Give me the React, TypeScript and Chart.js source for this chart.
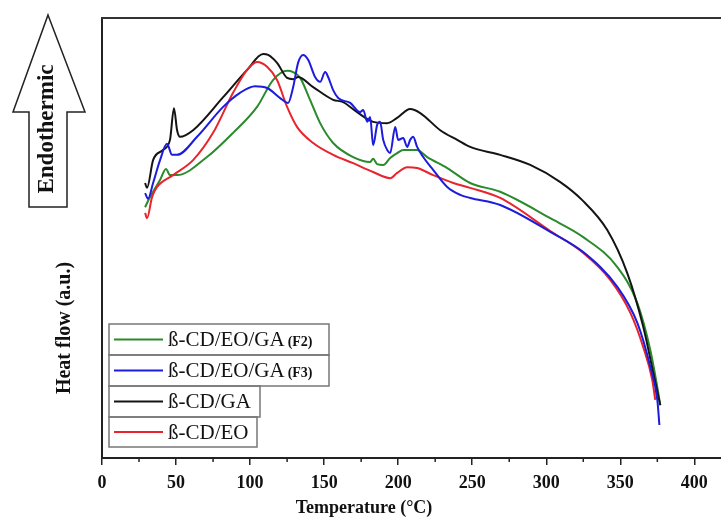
import React, { useEffect, useRef } from 'react';
import { Chart, registerables } from 'chart.js';

Chart.register(...registerables);

// Temperature (°C) axis ticks
const xTickValues = [0, 50, 100, 150, 200, 250, 300, 350, 400];

// ß-CD/EO/GA (F2) – green
const f2Temp = [29.1, 32.4, 39.2, 43.2, 45.9, 50.7, 70.9, 88.5, 104.7, 115.5, 125, 129.1, 133.8, 140.5, 147.3, 156.1, 169.6, 181.1, 183.1, 185.8, 189.9, 194.6, 199.3, 203.4, 212.8, 219.6, 233.1, 248.6, 268.9, 302.7, 325, 348, 361.5, 370.3, 375, 377];
const f2Flow = [57, 59.3, 63.2, 65.7, 64.3, 64.3, 68.4, 73.9, 79.8, 85.9, 88, 87.7, 86.4, 81.4, 76.1, 71.6, 68.4, 67.3, 68, 66.8, 66.6, 68.2, 69.3, 70, 70, 68.4, 65.9, 62.5, 60.5, 54.5, 50.2, 43.4, 35.2, 24.5, 16.1, 12];

// ß-CD/EO/GA (F3) – blue
const f3Temp = [29.1, 31.1, 34.5, 39.2, 43.9, 47.3, 50.7, 64.2, 81.8, 93.2, 103.4, 111.5, 120.3, 125.7, 129.1, 132.4, 135.8, 139.2, 143.9, 147.3, 150.7, 152.7, 156.1, 159.5, 167.6, 174.3, 176.4, 179.1, 181.1, 183.1, 185.8, 187.8, 189.9, 192.6, 194.6, 198, 200, 203.4, 206.1, 208.1, 210.1, 212.8, 216.9, 223.6, 233.1, 241.9, 248.6, 268.9, 302.7, 325, 348, 361.5, 370.3, 375, 376.4];
const f3Flow = [60.2, 58.9, 62.5, 67.7, 71.4, 68.9, 68.9, 73, 79.8, 83, 84.5, 84.1, 81.8, 80.7, 84.3, 89.8, 91.6, 90.5, 86.6, 85.5, 87.7, 86.6, 83.6, 81.8, 80.7, 78.6, 79.1, 76.4, 77.5, 71.1, 75.7, 76.4, 72.3, 70, 69.3, 75.2, 72.3, 72.7, 70.7, 72.3, 73, 70.7, 68.4, 65.5, 61.6, 59.8, 59.1, 57.5, 51.4, 46.8, 38.9, 30.7, 20.7, 13.2, 7.5];

// ß-CD/GA – black
const gaTemp = [29.1, 30.4, 34.5, 41.2, 45.9, 48.6, 50.7, 52.7, 61.5, 81.8, 98, 108.8, 112.2, 118.2, 125, 129.1, 132.4, 142.6, 156.1, 162.8, 172.3, 183.1, 192.6, 199.3, 208.1, 214.9, 228.4, 239.9, 248.6, 268.9, 289.2, 309.5, 324.3, 341.2, 354.7, 365.5, 372.3, 377];
const gaFlow = [62.5, 61.4, 67.7, 70, 72.3, 79.5, 74.5, 73, 74.5, 82, 88.2, 91.8, 91.6, 89.8, 86.4, 86.1, 86.6, 84.3, 81.4, 80.9, 78.6, 76.4, 76.1, 77.3, 79.3, 78.4, 74.5, 72.3, 70.7, 68.9, 66.6, 62.7, 58.6, 51.8, 42, 29.8, 19.3, 12];

// ß-CD/EO – red
const eoTemp = [29.1, 30.4, 33.8, 37.2, 48, 61.5, 75, 88.5, 98, 104.7, 111.5, 118.2, 125, 131.8, 142.6, 156.1, 169.6, 183.1, 194.6, 199.3, 206.1, 212.8, 223.6, 237.2, 248.6, 268.9, 302.7, 325, 343.2, 356.8, 365.5, 371.6, 373.6];
const eoFlow = [55.7, 54.5, 59.3, 61.6, 64.3, 67.7, 73.9, 83, 88.2, 90, 88.9, 85.9, 79.8, 75.2, 71.6, 68.9, 67, 65, 63.6, 64.8, 66.1, 65.9, 64.3, 62.5, 61.4, 59.1, 51.6, 46.6, 40.5, 33, 25.2, 17.7, 13.2];

const legendNames = ['ß-CD/EO/GA', 'ß-CD/EO/GA', 'ß-CD/GA', 'ß-CD/EO'];
const legendSuffix = ['(F2)', '(F3)', '', ''];
const seriesColors = ['#2b8a2b', '#1c1cdc', '#141414', '#e8242c'];

const toPoints = (t: number[], v: number[]) => t.map((x, i) => ({ x, y: v[i] }));

const SERIF = '"Liberation Serif", "DejaVu Serif", serif';

const decorPlugin = {
  id: 'decor',
  afterDraw(chart: any) {
    const ctx = chart.ctx as CanvasRenderingContext2D;
    const area = chart.chartArea;
    const xs = chart.scales.x;
    ctx.save();
    // top frame line
    ctx.strokeStyle = '#333';
    ctx.lineWidth = 2;
    ctx.beginPath();
    ctx.moveTo(area.left - 1, area.top);
    ctx.lineTo(chart.width, area.top);
    ctx.stroke();
    // minor ticks
    ctx.lineWidth = 1.5;
    ctx.strokeStyle = '#222';
    for (let v = 25; v < 420; v += 50) {
      const px = xs.getPixelForValue(v);
      ctx.beginPath();
      ctx.moveTo(px, area.bottom);
      ctx.lineTo(px, area.bottom + 4);
      ctx.stroke();
    }
    // arrow
    ctx.strokeStyle = '#222';
    ctx.lineWidth = 1.5;
    ctx.fillStyle = '#fff';
    ctx.beginPath();
    ctx.moveTo(48, 15);
    ctx.lineTo(85, 112);
    ctx.lineTo(67, 112);
    ctx.lineTo(67, 207);
    ctx.lineTo(29, 207);
    ctx.lineTo(29, 112);
    ctx.lineTo(13, 112);
    ctx.closePath();
    ctx.fill();
    ctx.stroke();
    // Endothermic
    ctx.fillStyle = '#111';
    ctx.font = `bold 23px ${SERIF}`;
    ctx.textAlign = 'center';
    ctx.textBaseline = 'middle';
    ctx.save();
    ctx.translate(47, 129);
    ctx.rotate(-Math.PI / 2);
    ctx.fillText('Endothermic', 0, 0);
    ctx.restore();
    // y title
    ctx.font = `bold 20px ${SERIF}`;
    ctx.save();
    ctx.translate(65, 328);
    ctx.rotate(-Math.PI / 2);
    ctx.fillText('Heat flow (a.u.)', 0, 0);
    ctx.restore();
    // x title
    ctx.font = `bold 18px ${SERIF}`;
    ctx.fillText('Temperature (°C)', 364, 508);
    // legend
    const rows = [
      [324, 355, 329],
      [355, 386, 329],
      [386, 417, 260],
      [417, 447, 257],
    ];
    rows.forEach((r, i) => {
      const [top, bottom, right] = r;
      ctx.strokeStyle = '#777';
      ctx.lineWidth = 1.5;
      ctx.strokeRect(109, top, right - 109, bottom - top);
      const cy = (top + bottom) / 2;
      ctx.strokeStyle = seriesColors[i];
      ctx.lineWidth = 2;
      ctx.beginPath();
      ctx.moveTo(114, cy);
      ctx.lineTo(163, cy);
      ctx.stroke();
      ctx.fillStyle = '#111';
      ctx.textAlign = 'left';
      ctx.font = `21px ${SERIF}`;
      ctx.fillText(legendNames[i], 168, cy + 1);
      if (legendSuffix[i]) {
        const w = ctx.measureText(legendNames[i]).width;
        ctx.font = `bold 14px ${SERIF}`;
        ctx.fillText(legendSuffix[i], 168 + w + 3, cy + 3);
      }
    });
    ctx.restore();
  },
};

export default function App() {
  const ref = useRef<HTMLCanvasElement>(null);
  useEffect(() => {
    document.body.style.margin = '0';
    const mk = (label: string, t: number[], v: number[], color: string, order: number) => ({
      label,
      data: toPoints(t, v),
      borderColor: color,
      backgroundColor: color,
      borderWidth: 2,
      pointRadius: 0,
      fill: false,
      cubicInterpolationMode: 'monotone' as const,
      order,
    });
    const chart = new Chart(ref.current!, {
      type: 'line',
      data: {
        datasets: [
          mk('ß-CD/EO/GA (F2)', f2Temp, f2Flow, seriesColors[0], 3),
          mk('ß-CD/EO/GA (F3)', f3Temp, f3Flow, seriesColors[1], 0),
          mk('ß-CD/GA', gaTemp, gaFlow, seriesColors[2], 2),
          mk('ß-CD/EO', eoTemp, eoFlow, seriesColors[3], 1),
        ],
      },
      options: {
        animation: false,
        responsive: false,
        layout: { padding: { top: 18, right: 0, left: 0, bottom: 0 } },
        plugins: { legend: { display: false }, tooltip: { enabled: false } },
        scales: {
          x: {
            type: 'linear',
            min: 0,
            max: 418,
            afterFit: (s: any) => { s.height = 61; },
            afterBuildTicks: (s: any) => { s.ticks = xTickValues.map((v) => ({ value: v })); },
            ticks: {
              includeBounds: false,
              stepSize: 50,
              color: '#111',
              padding: 8,
              maxRotation: 0,
              font: { family: SERIF, size: 18, weight: 'bold' },
            },
            grid: { display: true, drawOnChartArea: false, drawTicks: true, tickLength: 7, color: '#222', lineWidth: 1.5 },
            border: { display: true, color: '#222', width: 2 },
          },
          y: {
            min: 0,
            max: 100,
            afterFit: (s: any) => { s.width = 102; },
            ticks: { display: false },
            grid: { display: false },
            border: { display: true, color: '#222', width: 2 },
          },
        },
      },
      plugins: [decorPlugin],
    });
    return () => chart.destroy();
  }, []);
  return (
    <div style={{ width: 721, height: 519, background: '#fff' }}>
      <canvas ref={ref} width={721} height={519} />
    </div>
  );
}
